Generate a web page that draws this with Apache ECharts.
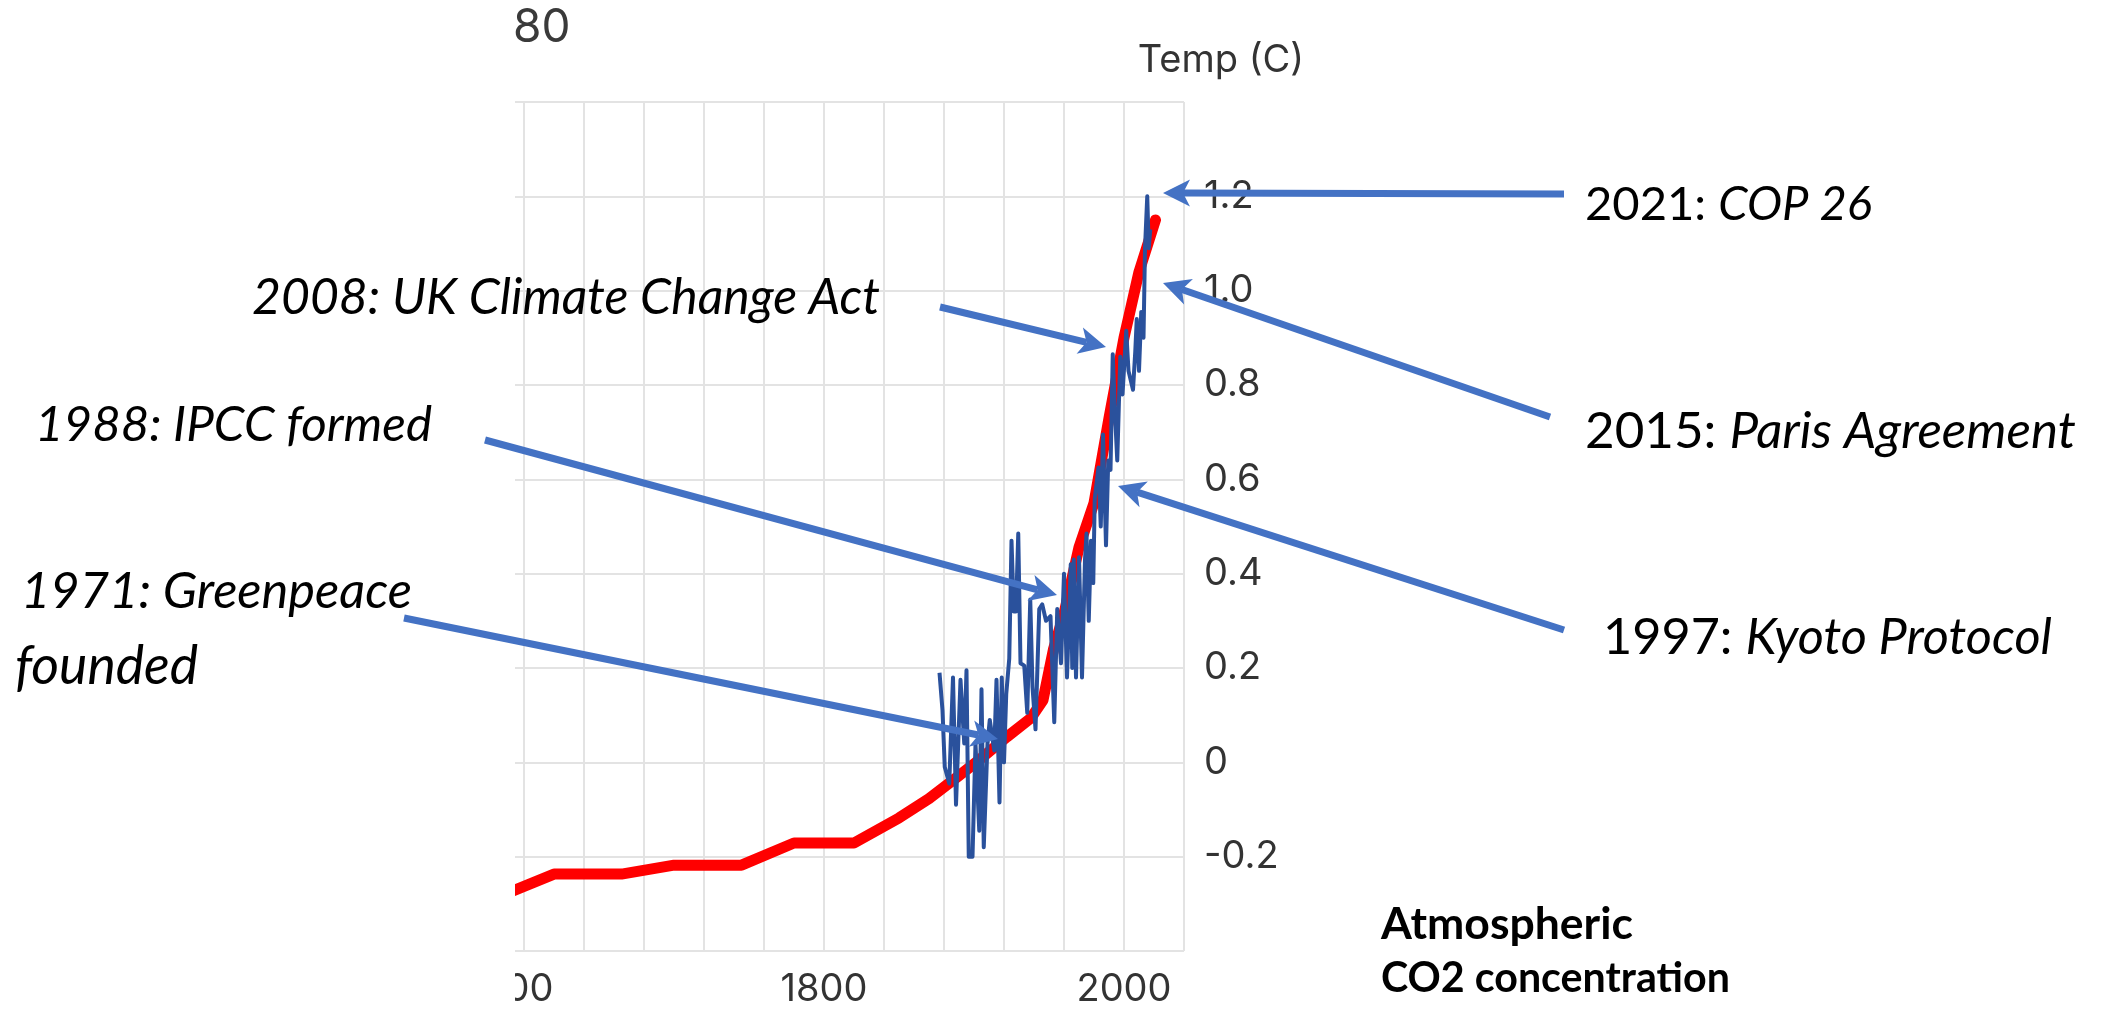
<!DOCTYPE html>
<html>
<head>
<meta charset="utf-8">
<script src="https://cdn.jsdelivr.net/npm/echarts@6/dist/echarts.min.js"></script>
<style>
  html, body { margin: 0; padding: 0; background: #ffffff; }
  #chart { width: 2103px; height: 1010px; }
</style>
</head>
<body>
<div id="chart"></div>
<script>
// ---------- DATA ----------
// Atmospheric CO2 concentration (ppm), red line, left (hidden) axis
const co2Years  = [1580, 1620, 1665, 1700, 1745, 1780, 1820, 1850, 1870, 1890, 1905, 1922, 1938, 1946, 1953, 1960, 1970, 1980, 1990, 2000, 2010, 2021];
const co2Values = [271.1, 276.3, 276.3, 278.2, 278.2, 282.9, 282.9, 288.2, 292.3, 297.2, 300.9, 305.4, 309.4, 313.2, 324.0, 331.5, 345.6, 355.0, 373.0, 390.0, 404.0, 415.0];

// Temperature anomaly (C), blue line, right axis
const tempYears  = [1877, 1879, 1880.5, 1883.5, 1886, 1888, 1891, 1893.5, 1895, 1896.5, 1899, 1901, 1903.5, 1905, 1906.5, 1909, 1910.5, 1913.5, 1915, 1917, 1918.5, 1920, 1921.5, 1923.5, 1925, 1926.5, 1928, 1929.5, 1931, 1933.5, 1935.5, 1937.5, 1939, 1941, 1943.5, 1945.5, 1948, 1951, 1953.5, 1955.5, 1958, 1960, 1962, 1964.5, 1965.5, 1966.5, 1968, 1970, 1972, 1974, 1975, 1976.5, 1978, 1979.5, 1980.5, 1983, 1984.5, 1986, 1988, 1989.5, 1991, 1992.5, 1994, 1995.5, 1997.5, 1999, 2001.5, 2003, 2006, 2007.5, 2008.5, 2010, 2011.5, 2013, 2014, 2015.5, 2016.5, 2017.5];
const tempValues = [0.19, 0.11, -0.01, -0.045, 0.18, -0.09, 0.175, 0.04, 0.195, -0.2, -0.2, 0.04, -0.145, 0.155, -0.18, 0.04, 0.09, 0.025, 0.175, -0.085, 0.18, 0.0, 0.145, 0.22, 0.47, 0.32, 0.32, 0.485, 0.21, 0.205, 0.105, 0.345, 0.16, 0.07, 0.325, 0.335, 0.30, 0.31, 0.085, 0.325, 0.21, 0.40, 0.18, 0.42, 0.20, 0.43, 0.18, 0.435, 0.18, 0.43, 0.485, 0.30, 0.47, 0.38, 0.56, 0.625, 0.50, 0.695, 0.46, 0.64, 0.62, 0.865, 0.74, 0.64, 0.86, 0.78, 0.915, 0.83, 0.79, 0.87, 0.94, 0.83, 0.955, 0.90, 1.09, 1.20, 1.09, 1.13];

// Axis tick labels shown
const xLabelYears = [1600, 1800, 2000];
const tempTickLabels = ['-0.2', '0', '0.2', '0.4', '0.6', '0.8', '1.0', '1.2'];

// Annotations
const events = [
  { lead: '2021: ', name: 'COP 26' },
  { lead: '2015: ', name: 'Paris Agreement' },
  { lead: '1997: ', name: 'Kyoto Protocol' },
  { lead: '',       name: '2008: UK Climate Change Act' },
  { lead: '',       name: '1988: IPCC formed' },
  { lead: '',       name: '1971: Greenpeace' },
  { lead: '',       name: 'founded' }
];
const legendLines = ['Atmospheric', 'CO2 concentration'];
const cornerLabel = '80';
const tempAxisName = 'Temp (C)';

// ---------- LAYOUT ----------
const chart = echarts.init(document.getElementById('chart'), null, { renderer: 'canvas' });
const AX_FONT = 'Inter';
const AX_COLOR = '#333333';
const GRID_COLOR = '#e3e3e3';

const option = {
  animation: false,
  backgroundColor: '#ffffff',
  grid: { left: 464, right: 919, top: 102, bottom: 59, containLabel: false },
  xAxis: {
    type: 'value', min: 1560, max: 2040, interval: 40,
    axisLine: { show: false }, axisTick: { show: false },
    splitLine: { show: true, lineStyle: { color: GRID_COLOR, width: 2 } },
    axisLabel: {
      interval: 0, margin: 20, color: AX_COLOR, fontFamily: AX_FONT, fontSize: 38,
      formatter: v => {
        const y = Math.round(v);
        if (xLabelYears.indexOf(y) < 0) return '';
        return y === xLabelYears[0] ? '{first|' + y + '}' : String(y);
      },
      rich: {
        first: { color: AX_COLOR, fontFamily: AX_FONT, fontSize: 38, padding: [0, 28, 0, 0] }
      }
    }
  },
  yAxis: [
    {
      type: 'value', position: 'right', min: -0.4, max: 1.4, interval: 0.2,
      name: tempAxisName, nameLocation: 'end', nameGap: 22,
      nameTextStyle: { color: AX_COLOR, fontFamily: AX_FONT, fontSize: 38, align: 'center', padding: [0, 0, 0, 74] },
      axisLine: { show: false }, axisTick: { show: false },
      splitLine: { show: true, lineStyle: { color: GRID_COLOR, width: 2 } },
      axisLabel: {
        margin: 20, color: AX_COLOR, fontFamily: AX_FONT, fontSize: 38,
        formatter: v => {
          const s = Math.abs(v) < 1e-9 ? '0' : (Math.round(v * 10) / 10).toFixed(1);
          return tempTickLabels.indexOf(s) >= 0 ? s : '';
        }
      }
    },
    {
      type: 'value', position: 'left', min: 260, max: 440, interval: 20,
      axisLine: { show: false }, axisTick: { show: false },
      splitLine: { show: false }, axisLabel: { show: false }
    }
  ],
  series: [
    {
      name: 'CO2', type: 'line', yAxisIndex: 1, showSymbol: false, z: 2,
      lineStyle: { color: '#ff0000', width: 11, cap: 'round', join: 'round' },
      data: co2Years.map((y, i) => [y, co2Values[i]])
    },
    {
      name: 'Temp', type: 'line', yAxisIndex: 0, showSymbol: false, z: 3,
      lineStyle: { color: '#2a519c', width: 4, join: 'round' },
      data: tempYears.map((y, i) => [y, tempValues[i]])
    }
  ]
};
chart.setOption(option);

// ---------- ANNOTATION OVERLAY ----------
const cvs = document.createElement('canvas');
const ctx = cvs.getContext('2d');
function measure(text, style, weight, family) {
  ctx.font = style + ' ' + weight + ' 100px "' + family + '"';
  return ctx.measureText(text).width / 100; // width per 1px of font size
}
const ANN_FONT = 'Lato';
const ANN_BLUE = '#4472C4';
const g = [];

// white area left of the cropped chart picture
g.push({ type: 'rect', z: 50, shape: { x: 0, y: 0, width: 515, height: 1010 }, style: { fill: '#ffffff' } });

// [left x, middle y, target width]
const evPlace = [
  [1585, 205, 287],
  [1585, 432, 491],
  [1603, 638, 449],
  [252, 298, 628],
  [35, 425, 397],
  [21, 592, 391],
  [15, 667, 183]
];
events.forEach((ev, i) => {
  const [x, y, tw] = evPlace[i];
  const w1 = ev.lead ? measure(ev.lead, 'normal', 400, ANN_FONT) : 0;
  const w2 = measure(ev.name, 'italic', 400, ANN_FONT);
  const size = tw / (w1 + w2);
  if (ev.lead) {
    g.push({ type: 'text', z: 100, x: x, y: y, style: {
      text: ev.lead, fontFamily: ANN_FONT, fontSize: size, fontStyle: 'normal', fill: '#000',
      align: 'left', verticalAlign: 'middle' } });
  }
  g.push({ type: 'text', z: 100, x: x + w1 * size, y: y, style: {
    text: ev.name, fontFamily: ANN_FONT, fontSize: size, fontStyle: 'italic', fill: '#000',
    align: 'left', verticalAlign: 'middle' } });
});

// bold caption
const capPlace = [[1381, 925, 252], [1381, 979, 349]];
legendLines.forEach((t, i) => {
  const [x, y, tw] = capPlace[i];
  const size = tw / measure(t, 'normal', 700, ANN_FONT);
  g.push({ type: 'text', z: 100, x: x, y: y, style: {
    text: t, fontFamily: ANN_FONT, fontSize: size, fontWeight: 700, fill: '#000',
    align: 'left', verticalAlign: 'middle' } });
});

// cropped label at top-left of the chart picture
g.push({ type: 'text', z: 100, x: 513, y: 28, style: {
  text: cornerLabel, fontFamily: AX_FONT, fontSize: 46, fill: '#3a3a3a', align: 'left', verticalAlign: 'middle' } });

// arrows: start -> tip
const arrows = [
  [1564, 194, 1163, 193],
  [1550, 417, 1163, 283],
  [1564, 630, 1118, 486],
  [940, 307, 1106, 347],
  [485, 440, 1057, 595],
  [404, 618, 998, 739]
];
arrows.forEach(([x1, y1, x2, y2]) => {
  const dx = x2 - x1, dy = y2 - y1, len = Math.hypot(dx, dy);
  const ux = dx / len, uy = dy / len, nx = -uy, ny = ux;
  const L = 27, HW = 13.5, N = 7;
  const bx = x2 - ux * L, by = y2 - uy * L;
  const mx = x2 - ux * (L - N), my = y2 - uy * (L - N);
  g.push({ type: 'line', z: 90, shape: { x1: x1, y1: y1, x2: mx, y2: my },
    style: { stroke: ANN_BLUE, lineWidth: 7 } });
  g.push({ type: 'polygon', z: 91, shape: { points: [[x2, y2], [bx + nx * HW, by + ny * HW], [mx, my], [bx - nx * HW, by - ny * HW]] },
    style: { fill: ANN_BLUE } });
});

chart.setOption({ graphic: g });
</script>
</body>
</html>
